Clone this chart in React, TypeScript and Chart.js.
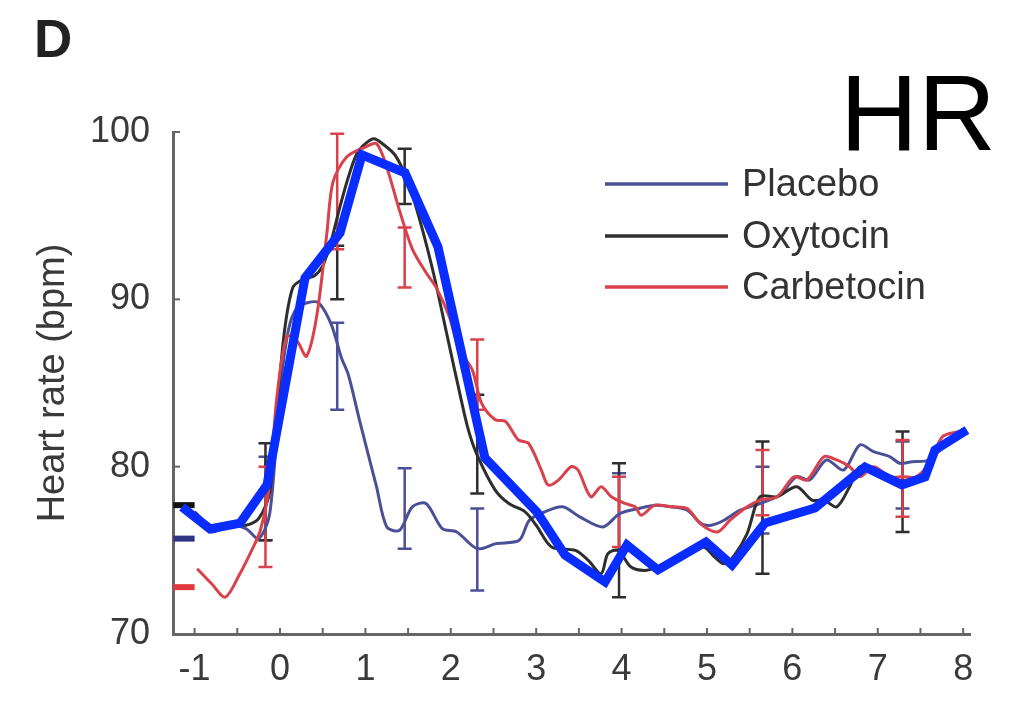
import React, { useEffect, useRef } from 'react';
import { Chart, registerables } from 'chart.js';

Chart.register(...registerables);

// ---------- data ----------
const xTickValues = [-1, 0, 1, 2, 3, 4, 5, 6, 7, 8];
const yTickValues = [70, 80, 90, 100];

const placeboX = [-1, -0.8, -0.6, -0.4, -0.25, -0.12, 0, 0.1, 0.2, 0.32, 0.45, 0.6, 0.72, 0.8, 0.93, 1.13, 1.25, 1.4, 1.55, 1.71, 1.9, 2.07, 2.31, 2.53, 2.8, 2.92, 3.1, 3.31, 3.51, 3.78, 3.98, 4.2, 4.4, 4.58, 4.77, 4.93, 5.05, 5.2, 5.39, 5.62, 5.85, 6.05, 6.2, 6.4, 6.6, 6.79, 6.95, 7.14, 7.26, 7.4, 7.6, 7.84, 7.97];
const placeboY = [77.0, 76.1, 76.5, 76.3, 75.7, 77.2, 84.5, 88.2, 89.5, 89.8, 89.8, 88.5, 86.5, 85.5, 82.8, 78.8, 76.4, 76.2, 77.6, 77.8, 76.3, 76.1, 75.1, 75.4, 75.6, 76.8, 77.3, 77.6, 77.0, 76.4, 77.2, 77.5, 77.7, 77.6, 77.4, 76.6, 76.5, 76.8, 77.4, 77.8, 78.3, 79.4, 79.2, 80.4, 79.8, 81.3, 80.9, 80.6, 80.2, 80.3, 80.4, 81.6, 82.0];

const oxytocinX = [-1, -0.8, -0.6, -0.4, -0.25, -0.12, -0.04, 0.05, 0.15, 0.27, 0.4, 0.5, 0.6, 0.7, 0.8, 0.9, 1.0, 1.1, 1.2, 1.35, 1.5, 1.65, 1.8, 1.95, 2.1, 2.2, 2.3, 2.52, 2.68, 2.87, 3.0, 3.18, 3.46, 3.61, 3.76, 3.84, 3.96, 4.11, 4.27, 4.42, 4.58, 4.77, 4.96, 5.09, 5.2, 5.32, 5.47, 5.62, 5.82, 6.05, 6.23, 6.37, 6.52, 6.67, 6.79, 6.98, 7.22, 7.37, 7.53, 7.68, 7.84, 7.95];
const oxytocinY = [77.3, 76.4, 76.6, 76.5, 76.9, 78.5, 83, 88, 90.7, 91.2, 91.4, 92, 93.5, 95.5, 97.3, 98.7, 99.3, 99.6, 99.3, 98.6, 97.0, 94.5, 91.5, 88.0, 84.5, 82.3, 80.8, 78.6, 77.8, 77.3, 76.5, 75.2, 75.0, 74.4, 73.6, 74.8, 75.0, 74.0, 73.8, 74.0, 74.4, 74.8, 75.2, 74.6, 74.2, 74.7, 76.0, 78.2, 78.2, 78.8, 78.0, 78.0, 77.6, 78.8, 80.0, 79.8, 79.2, 79.2, 79.6, 80.8, 81.4, 81.8];

const carbetocinX = [-0.97, -0.8, -0.64, -0.47, -0.35, -0.23, -0.12, -0.04, 0.08, 0.2, 0.31, 0.43, 0.55, 0.62, 0.78, 1.0, 1.13, 1.25, 1.4, 1.55, 1.71, 1.83, 1.98, 2.1, 2.25, 2.36, 2.52, 2.64, 2.79, 2.91, 3.06, 3.14, 3.26, 3.41, 3.49, 3.64, 3.76, 3.88, 4.04, 4.16, 4.23, 4.39, 4.58, 4.77, 4.92, 5.12, 5.27, 5.47, 5.62, 5.82, 6.02, 6.17, 6.37, 6.52, 6.67, 6.79, 6.95, 7.14, 7.3, 7.45, 7.6, 7.76, 7.95];
const carbetocinY = [73.9, 73.0, 72.2, 73.6, 74.8, 76.2, 79, 84, 87.8, 87.5, 86.6, 89, 94, 97, 98.5, 99.1, 99.3, 97.9, 95.3, 93, 91.6, 90.7, 89, 87, 85.8, 83.8, 82.8, 82.7, 81.6, 81.4, 79.8, 78.9, 79.2, 80.0, 79.8, 78.2, 78.8, 78.2, 77.8, 77.6, 77.1, 77.7, 77.6, 77.5, 76.6, 76.1, 76.8, 77.6, 78.0, 78.2, 79.4, 79.2, 80.6, 80.4, 80.0, 79.4, 80.0, 79.4, 79.4, 79.4, 80.2, 81.8, 82.1];

const overlayX = [-1.148, -0.82, -0.468, -0.152, 0.293, 0.703, 0.96, 1.464, 1.85, 2.4, 3.009, 3.337, 3.806, 4.063, 4.426, 4.988, 5.293, 5.679, 6.265, 6.85, 7.283, 7.553, 7.67, 8.044];
const overlayY = [77.59, 76.28, 76.63, 78.91, 91.28, 93.97, 98.63, 97.56, 93.13, 80.52, 77.29, 74.72, 73.11, 75.32, 73.83, 75.5, 74.12, 76.63, 77.53, 79.98, 78.91, 79.38, 81.0, 82.19];

// error bars (same x for all series)
const errX = [-0.17, 0.67, 1.46, 2.31, 3.97, 5.65, 7.29];
const placeboLo = [75.6, 83.4, 75.1, 72.6, 75.0, 76.0, 77.5];
const placeboHi = [80.6, 88.6, 79.9, 77.5, 79.6, 80.0, 81.5];
const oxytocinLo = [75.6, 90.0, 95.7, 78.4, 72.2, 73.6, 76.1];
const oxytocinHi = [81.4, 93.2, 99.0, 84.3, 80.2, 81.5, 82.1];
const carbetocinLo = [74.0, 93.0, 90.7, 83.4, 75.2, 77.1, 77.0];
const carbetocinHi = [80.0, 99.9, 94.3, 87.6, 79.4, 81.0, 81.6];

// baseline markers at left of axis
const baselineX = [-1.25, -1.0];
const baselineOxy = 77.7;
const baselinePla = 75.7;
const baselineCar = 72.8;

const seriesNames = ['Placebo', 'Oxytocin', 'Carbetocin'];

// ---------- styles ----------
const COL_PLA = '#4b5096';
const COL_OXY = '#2e2e2e';
const COL_CAR = '#d9414b';
const COL_OVL = '#0a2dff';
const FONT = "'Liberation Sans', Arial, Helvetica, sans-serif";

const pts = (xs: number[], ys: number[]) => xs.map((x, i) => ({ x, y: ys[i] }));

const overlayPlugin = {
  id: 'overlayPlugin',
  beforeDatasetsDraw(chart: any) {
    const ctx = chart.ctx;
    const xs = chart.scales.x;
    const ys = chart.scales.y;
    const groups = [
      { lo: placeboLo, hi: placeboHi, c: COL_PLA },
      { lo: oxytocinLo, hi: oxytocinHi, c: COL_OXY },
      { lo: carbetocinLo, hi: carbetocinHi, c: COL_CAR },
    ];
    ctx.save();
    ctx.lineWidth = 2.5;
    groups.forEach((g) => {
      ctx.strokeStyle = g.c;
      errX.forEach((x, i) => {
        const px = xs.getPixelForValue(x);
        const p1 = ys.getPixelForValue(g.lo[i]);
        const p2 = ys.getPixelForValue(g.hi[i]);
        ctx.beginPath();
        ctx.moveTo(px, p1);
        ctx.lineTo(px, p2);
        ctx.moveTo(px - 7, p1);
        ctx.lineTo(px + 7, p1);
        ctx.moveTo(px - 7, p2);
        ctx.lineTo(px + 7, p2);
        ctx.stroke();
      });
    });
    // inward tick marks
    ctx.strokeStyle = '#666';
    ctx.lineWidth = 2;
    const left = chart.chartArea.left;
    const bottom = chart.chartArea.bottom;
    yTickValues.forEach((v) => {
      const py = ys.getPixelForValue(v);
      ctx.beginPath();
      ctx.moveTo(left, py);
      ctx.lineTo(left + 7, py);
      ctx.stroke();
    });
    for (let v = -1; v <= 8.001; v += 0.5) {
      const px = xs.getPixelForValue(v);
      ctx.beginPath();
      ctx.moveTo(px, bottom);
      ctx.lineTo(px, bottom - 6);
      ctx.stroke();
    }
    ctx.restore();
  },
  afterDraw(chart: any) {
    const ctx = chart.ctx;
    ctx.save();
    // panel letter
    ctx.fillStyle = '#222';
    ctx.font = `bold 53px ${FONT}`;
    ctx.textBaseline = 'alphabetic';
    ctx.textAlign = 'left';
    ctx.fillText('D', 34, 57);
    // HR
    ctx.fillStyle = '#000';
    ctx.font = `108px ${FONT}`;
    ctx.fillText('HR', 840, 150);
    // y title
    ctx.save();
    ctx.translate(64, 383);
    ctx.rotate(-Math.PI / 2);
    ctx.fillStyle = '#3a3a3a';
    ctx.font = `38px ${FONT}`;
    ctx.textAlign = 'center';
    ctx.textBaseline = 'alphabetic';
    ctx.fillText('Heart rate (bpm)', 0, 0);
    ctx.restore();
    // legend
    const cols = [COL_PLA, COL_OXY, COL_CAR];
    const ly = [184, 236, 287];
    ctx.lineWidth = 3.5;
    ctx.font = `38px ${FONT}`;
    ctx.textBaseline = 'middle';
    ctx.textAlign = 'left';
    seriesNames.forEach((n, i) => {
      ctx.strokeStyle = cols[i];
      ctx.beginPath();
      ctx.moveTo(605, ly[i]);
      ctx.lineTo(728, ly[i]);
      ctx.stroke();
      ctx.fillStyle = '#333';
      ctx.fillText(n, 742, ly[i] + 2);
    });
    ctx.restore();
  },
};

export default function App() {
  const ref = useRef<HTMLCanvasElement>(null);
  useEffect(() => {
    const chart = new Chart(ref.current as HTMLCanvasElement, {
      type: 'line',
      data: {
        datasets: [
          { label: 'overlay', data: pts(overlayX, overlayY), borderColor: COL_OVL, borderWidth: 9, pointRadius: 0, tension: 0, borderJoinStyle: 'miter', order: 0 } as any,
          { label: 'base-oxy', data: pts(baselineX, [baselineOxy, baselineOxy]), borderColor: '#111', borderWidth: 6, pointRadius: 0, order: 1 },
          { label: 'base-pla', data: pts(baselineX, [baselinePla, baselinePla]), borderColor: '#2e3585', borderWidth: 6, pointRadius: 0, order: 1 },
          { label: 'base-car', data: pts(baselineX, [baselineCar, baselineCar]), borderColor: '#e03a3f', borderWidth: 6, pointRadius: 0, order: 1 },
          { label: seriesNames[2], data: pts(carbetocinX, carbetocinY), borderColor: COL_CAR, borderWidth: 3, pointRadius: 0, tension: 0.3, order: 2 },
          { label: seriesNames[1], data: pts(oxytocinX, oxytocinY), borderColor: COL_OXY, borderWidth: 3, pointRadius: 0, tension: 0.3, order: 3 },
          { label: seriesNames[0], data: pts(placeboX, placeboY), borderColor: COL_PLA, borderWidth: 3, pointRadius: 0, tension: 0.3, order: 4 },
        ],
      },
      options: {
        animation: false,
        responsive: false,
        events: [],
        layout: { padding: { top: 132, right: 49, left: 0, bottom: 0 } },
        plugins: { legend: { display: false }, tooltip: { enabled: false }, title: { display: false } },
        scales: {
          x: {
            type: 'linear',
            min: -1.253,
            max: 8.08,
            grid: { display: false },
            border: { display: true, color: '#666', width: 3 },
            afterBuildTicks: (s: any) => { s.ticks = xTickValues.map((v) => ({ value: v })); },
            afterFit: (s: any) => { s.height = 67; },
            ticks: { color: '#3a3a3a', font: { family: FONT, size: 36 }, padding: 6, maxRotation: 0, autoSkip: false, callback: (v: any) => String(v) },
          },
          y: {
            type: 'linear',
            min: 70,
            max: 100,
            grid: { display: false },
            border: { display: true, color: '#666', width: 3 },
            afterBuildTicks: (s: any) => { s.ticks = yTickValues.map((v) => ({ value: v })); },
            afterFit: (s: any) => { s.width = 173; },
            ticks: { color: '#3a3a3a', font: { family: FONT, size: 36 }, padding: 15, callback: (v: any) => String(v) },
          },
        },
      },
      plugins: [overlayPlugin],
    } as any);
    return () => chart.destroy();
  }, []);
  return (
    <div style={{ position: 'absolute', left: 0, top: 0, width: 1019, height: 701, background: '#fff' }}>
      <canvas ref={ref} width={1019} height={701} style={{ display: 'block', width: 1019, height: 701 }} />
    </div>
  );
}
